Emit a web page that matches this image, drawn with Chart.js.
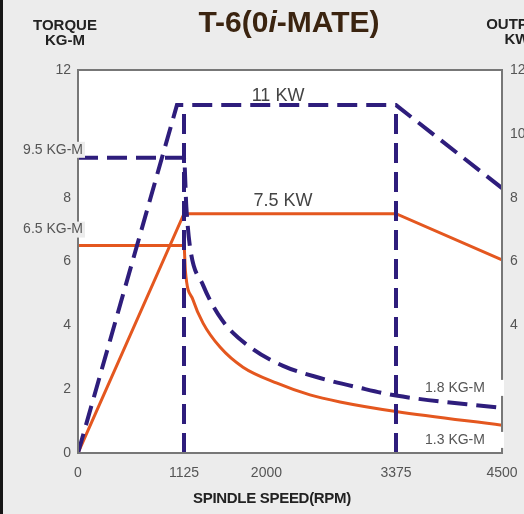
<!DOCTYPE html>
<html>
<head>
<meta charset="utf-8">
<script src="https://cdn.jsdelivr.net/npm/chart.js@4"></script>
<style>
html, body { margin: 0; padding: 0; }
body { width: 524px; height: 514px; background: #ececec; position: relative; overflow: hidden; font-family: "Liberation Sans", Arial, sans-serif; }
#chart { position: absolute; left: 0; top: 0; }
#edge { position: absolute; left: 0; top: 0; width: 3px; height: 514px; background: #161616; }
.title { position: absolute; left: 0; top: 6px; width: 578px; text-align: center; font-size: 30px; font-weight: bold; color: #3b2410; line-height: 32px; }
.unit { position: absolute; font-size: 15px; font-weight: bold; color: #222; line-height: 15px; text-align: center; width: 100px; }
.xname { position: absolute; left: 122px; top: 489px; width: 300px; text-align: center; font-size: 15px; font-weight: bold; color: #222; letter-spacing: -0.3px; }
</style>
</head>
<body>
<canvas id="chart" width="524" height="514"></canvas>
<div id="edge"></div>
<div class="title">T-6(0<i>i</i>-MATE)</div>
<div class="unit" style="left:15px; top:17px;">TORQUE<br>KG-M</div>
<div class="unit" style="left:467px; top:16px;">OUTPUT<br>KW</div>
<div class="xname">SPINDLE SPEED(RPM)</div>
<script>
const speedTicks = [0, 1125, 2000, 3375, 4500];

// output, 11 KW (dashed)
const highPowerRpm = [0, 1050, 3375, 4500];
const highPowerKw = [0, 10.9, 10.9, 8.3];

// output, 7.5 KW
const lowPowerRpm = [0, 1125, 3375, 4500];
const lowPowerKw = [0, 7.5, 7.5, 6.05];

// torque for the 11 KW curve (dashed)
const highTorqueRpm = [0, 1125, 1150, 1189, 1327, 1528, 1825, 2176, 2568, 2993, 3375, 4500];
const highTorqueKgm = [9.25, 9.25, 7.7, 6.45, 5.26, 4.17, 3.32, 2.73, 2.35, 2.04, 1.8, 1.41];

// torque for the 7.5 KW curve
const lowTorqueRpm = [0, 1125, 1140, 1220, 1327, 1507, 1751, 2112, 2462, 2781, 3375, 4500];
const lowTorqueKgm = [6.5, 6.5, 5.7, 4.8, 4.07, 3.32, 2.69, 2.19, 1.82, 1.6, 1.3, 0.87];

// vertical markers at base speed and end of constant power
const markerRpm = [1125, 3375];
const markerKw = [0, 10.9];

// notes inside the plot (x in rpm, y in axis units)
const noteTexts = ['11 KW', '7.5 KW', '1.8 KG-M', '1.3 KG-M'];
const noteRpm = [2123, 2176, 4001, 4001];
const noteVal = [11.2, 7.9, 2.04, 0.41];

// notes on the left torque axis
const sideTexts = ['9.5 KG-M', '6.5 KG-M'];
const sideVal = [9.5, 7.0];

const navy = '#2e1d7c';
const orange = '#e4571f';
const dash = [20, 9];

function pts(xs, ys) {
    return xs.map((x, i) => ({ x: x, y: ys[i] }));
}

const datasets = [
    { data: pts(highTorqueRpm, highTorqueKgm), yAxisID: 'y', borderColor: navy, borderWidth: 4, borderDash: dash, cubicInterpolationMode: 'monotone' },
    { data: pts(highPowerRpm, highPowerKw), yAxisID: 'y1', borderColor: navy, borderWidth: 4, borderDash: dash }
];
markerRpm.forEach(r => {
    datasets.push({ data: pts([r, r], markerKw), yAxisID: 'y1', borderColor: navy, borderWidth: 4, borderDash: dash });
});
datasets.push({ data: pts(lowTorqueRpm, lowTorqueKgm), yAxisID: 'y', borderColor: orange, borderWidth: 3, cubicInterpolationMode: 'monotone' });
datasets.push({ data: pts(lowPowerRpm, lowPowerKw), yAxisID: 'y1', borderColor: orange, borderWidth: 3 });

const boxPlugin = {
    id: 'box',
    beforeDraw(chart) {
        const { ctx, chartArea: a } = chart;
        ctx.save();
        ctx.fillStyle = '#ffffff';
        ctx.fillRect(a.left, a.top, a.right - a.left, a.bottom - a.top);
        ctx.restore();
    },
    afterDraw(chart) {
        const { ctx, chartArea: a } = chart;
        const x = chart.scales.x, y = chart.scales.y, y1 = chart.scales.y1;
        ctx.save();
        ctx.strokeStyle = '#777';
        ctx.lineWidth = 2;
        ctx.strokeRect(a.left, a.top, a.right - a.left, a.bottom - a.top);

        ctx.textBaseline = 'middle';
        // plot notes
        noteTexts.forEach((t, i) => {
            const px = x.getPixelForValue(noteRpm[i]);
            const py = (i < 2 ? y1 : y).getPixelForValue(noteVal[i]);
            if (i < 2) {
                ctx.font = '18px "Liberation Sans", Arial, sans-serif';
                ctx.fillStyle = '#444';
            } else {
                ctx.font = '14px "Liberation Sans", Arial, sans-serif';
                const w = ctx.measureText(t).width;
                ctx.fillStyle = '#ffffff';
                ctx.fillRect(px - w / 2 - 3, py - 8, a.right - (px - w / 2 - 3) + 2, 16);
                ctx.fillStyle = '#555';
            }
            ctx.textAlign = 'center';
            ctx.fillText(t, px, py);
        });
        // left axis notes
        ctx.font = '14px "Liberation Sans", Arial, sans-serif';
        ctx.textAlign = 'right';
        sideTexts.forEach((t, i) => {
            const py = y.getPixelForValue(sideVal[i]);
            const w = ctx.measureText(t).width;
            const right = a.left + 5;
            ctx.fillStyle = '#ececec';
            ctx.fillRect(right - w - 2, py - 8, w + 4, 16);
            ctx.fillStyle = '#555';
            ctx.fillText(t, right, py);
        });
        ctx.restore();
    }
};

const tickFont = { family: '"Liberation Sans", Arial, sans-serif', size: 14 };

new Chart(document.getElementById('chart').getContext('2d'), {
    type: 'line',
    data: { datasets: datasets },
    options: {
        responsive: false,
        animation: false,
        layout: { padding: { top: 70, left: 0, right: 0, bottom: 0 } },
        elements: { point: { radius: 0 }, line: { tension: 0, fill: false } },
        plugins: { legend: { display: false }, tooltip: { enabled: false } },
        scales: {
            x: {
                type: 'linear', min: 0, max: 4500,
                afterBuildTicks: s => { s.ticks = speedTicks.map(v => ({ value: v })); },
                afterFit: s => { s.height = 61; s.paddingLeft = 0; s.paddingRight = 0; },
                grid: { display: false, drawTicks: false },
                border: { display: false },
                ticks: { padding: 12, color: '#555', font: tickFont, maxRotation: 0, callback: v => String(v) }
            },
            y: {
                position: 'left', min: 0, max: 12,
                afterFit: s => { s.width = 78; s.paddingTop = 0; s.paddingBottom = 0; },
                grid: { display: false, drawTicks: false },
                border: { display: false },
                ticks: { stepSize: 2, padding: 7, color: '#555', font: tickFont, callback: v => v === 10 ? '' : v }
            },
            y1: {
                position: 'right', min: 0, max: 12,
                afterFit: s => { s.width = 22; s.paddingTop = 0; s.paddingBottom = 0; },
                grid: { display: false, drawTicks: false },
                border: { display: false },
                ticks: { stepSize: 2, padding: 8, color: '#555', font: tickFont, callback: v => v < 4 ? '' : v }
            }
        }
    },
    plugins: [boxPlugin]
});
</script>
</body>
</html>
